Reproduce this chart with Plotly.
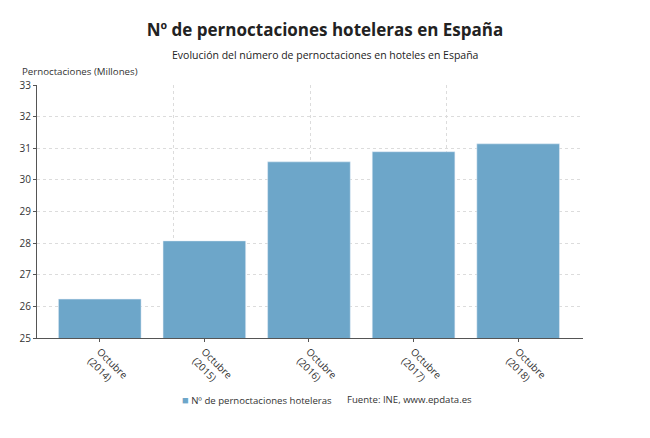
import plotly.graph_objects as go

categories = ["Octubre<br>(2014)", "Octubre<br>(2015)", "Octubre<br>(2016)", "Octubre<br>(2017)", "Octubre<br>(2018)"]
values = [26.23, 28.07, 30.57, 30.89, 31.14]
y_ticks = [25, 26, 27, 28, 29, 30, 31, 32, 33]
series_name = "Nº de pernoctaciones hoteleras"

FONT = "Open Sans, Noto Sans, sans-serif"
BAR = "#6da6c9"

W, H = 650, 438
ML, MR, MT, MB = 37, 67, 85, 100
plot_h = H - MT - MB
plot_w = W - ML - MR


def py(px):
    return (H - MB - px) / plot_h


def pxx(px):
    return (px - ML) / plot_w


fig = go.Figure()
fig.add_trace(go.Bar(
    x=list(range(len(categories))), y=values, name=series_name,
    marker=dict(color=BAR), width=0.79, showlegend=False,
))
# invisible trace to drive the secondary grid axis
fig.add_trace(go.Scatter(x=[0, 4], y=[25, 25], xaxis="x2", mode="markers",
                         marker=dict(opacity=0), showlegend=False, hoverinfo="skip"))

fig.update_layout(
    width=W, height=H,
    margin=dict(l=ML, r=MR, t=MT, b=MB),
    paper_bgcolor="white", plot_bgcolor="white",
    font=dict(family=FONT, color="#333333", size=10),
    title=dict(text="<b>Nº de pernoctaciones hoteleras en España</b>",
               x=0.5, xanchor="center", y=1 - 30 / H, yanchor="middle",
               font=dict(size=17, color="#222222")),
    xaxis=dict(
        range=[-0.6, 4.62], tickmode="array", tickvals=list(range(len(categories))),
        ticktext=categories, tickangle=45, showgrid=False,
        showline=True, linecolor="#555555", linewidth=1,
        ticks="outside", ticklen=3, tickcolor="#555555",
        tickfont=dict(size=10, color="#333333"), zeroline=False,
    ),
    xaxis2=dict(
        overlaying="x", range=[0, 4], showticklabels=False, showgrid=True,
        gridcolor="#dcdcdc", griddash="dot", gridwidth=1, dtick=1,
        zeroline=False, showline=False, side="bottom",
    ),
    yaxis=dict(
        range=[25, 33], tickmode="array", tickvals=y_ticks,
        showgrid=True, gridcolor="#dcdcdc", griddash="dot",
        showline=True, linecolor="#555555", linewidth=1,
        ticks="outside", ticklen=3, tickcolor="#555555",
        tickfont=dict(size=10, color="#333333"), zeroline=False,
    ),
    showlegend=False,
    annotations=[
        dict(text="Evolución del número de pernoctaciones en hoteles en España",
             xref="paper", yref="paper", x=pxx(325), y=py(55), xanchor="center", yanchor="middle",
             showarrow=False, font=dict(size=10.5, color="#222222")),
        dict(text="Pernoctaciones (Millones)", xref="paper", yref="paper",
             x=pxx(20), y=py(71), xanchor="left", yanchor="middle", showarrow=False,
             font=dict(size=9.7, color="#333333")),
        dict(text=f"<span style='color:{BAR};font-size:11px'>■</span> {series_name}",
             xref="paper", yref="paper",
             x=pxx(180), y=py(399), xanchor="left", yanchor="middle", showarrow=False,
             font=dict(size=9.6, color="#333333")),
        dict(text="Fuente: INE, www.epdata.es", xref="paper", yref="paper",
             x=pxx(345), y=py(399), xanchor="left", yanchor="middle", showarrow=False,
             font=dict(size=9.6, color="#333333")),
    ],
)

fig.write_html("out.html")
